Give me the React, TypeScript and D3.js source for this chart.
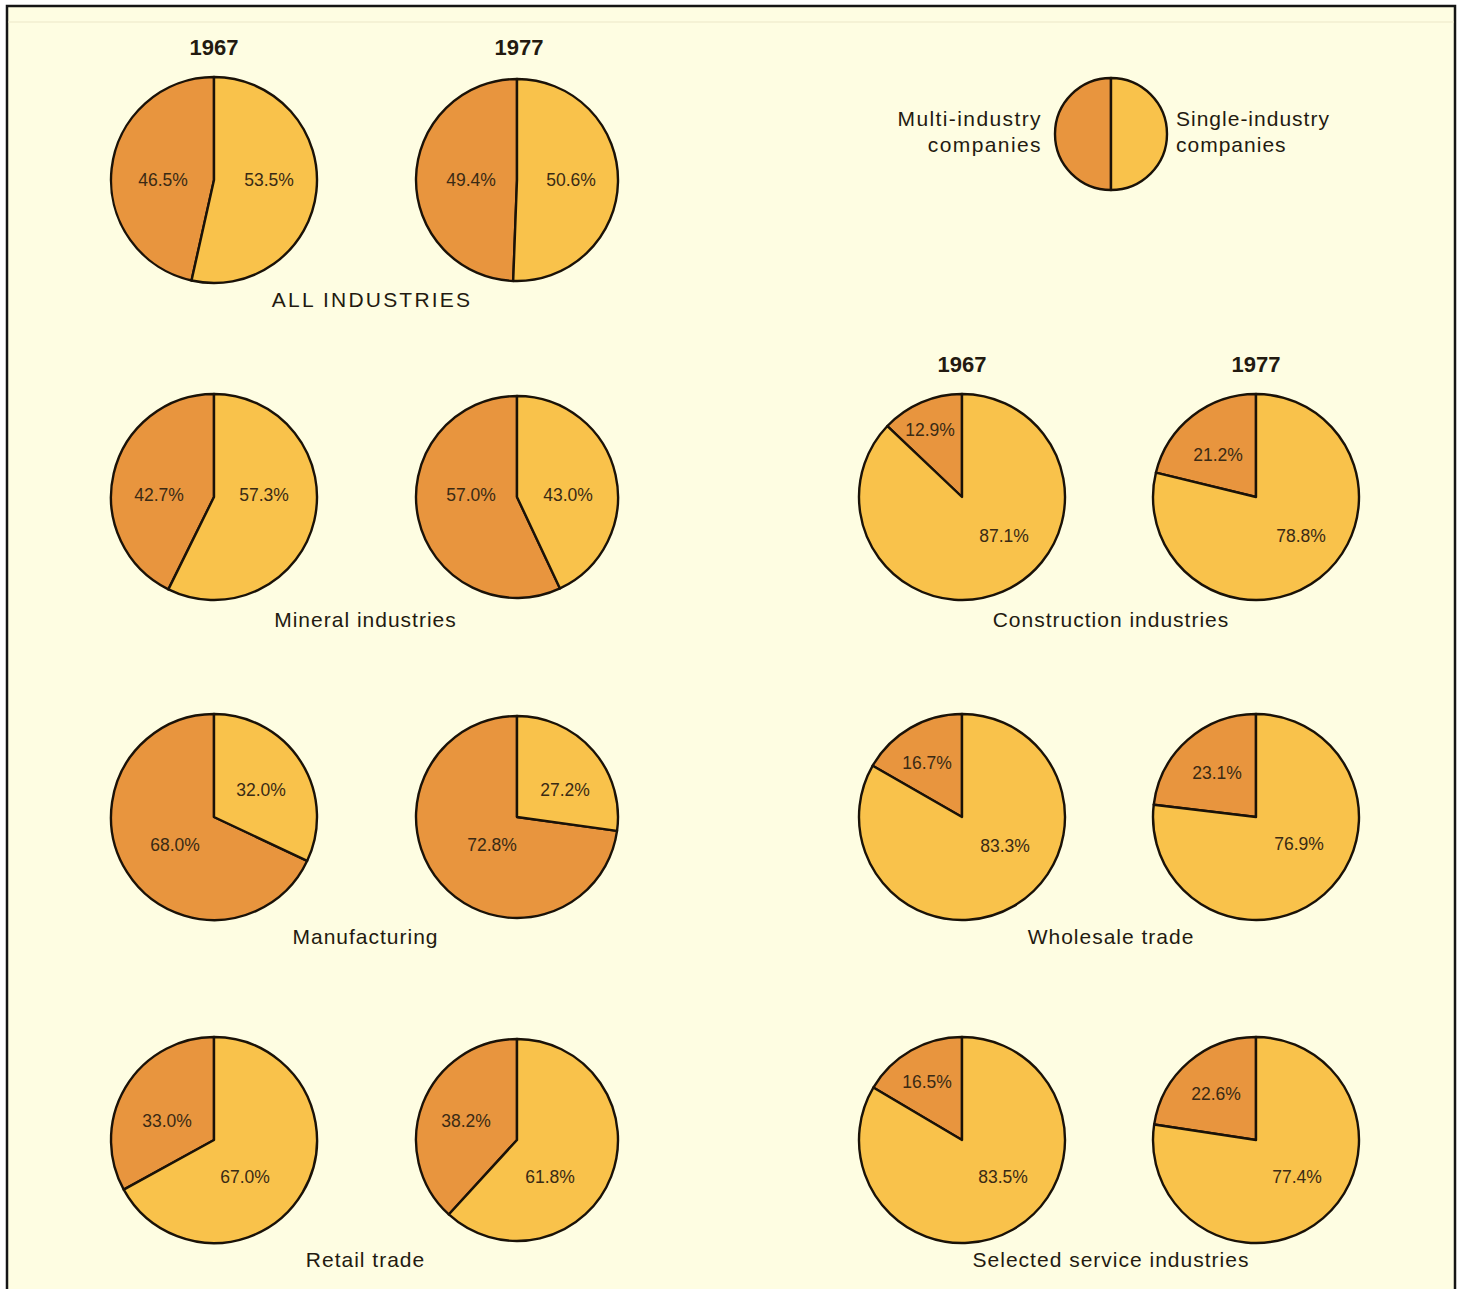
import React from "react";
import * as d3 from "d3";

// ---------- DATA ----------
const industries = [
  "ALL INDUSTRIES",
  "Mineral industries",
  "Manufacturing",
  "Retail trade",
  "Construction industries",
  "Wholesale trade",
  "Selected service industries",
];
const years = ["1967", "1977"];
// share of multi-industry companies (%), per industry: [1967, 1977]
const multi1967 = [46.5, 42.7, 68.0, 33.0, 12.9, 16.7, 16.5];
const multi1977 = [49.4, 57.0, 72.8, 38.2, 21.2, 23.1, 22.6];
// share of single-industry companies (%)
const single1967 = [53.5, 57.3, 32.0, 67.0, 87.1, 83.3, 83.5];
const single1977 = [50.6, 43.0, 27.2, 61.8, 78.8, 76.9, 77.4];
const legendLabels = [["Multi-industry", "companies"], ["Single-industry", "companies"]];

// ---------- LAYOUT ----------
const W = 1461;
const H = 1289;
const colX = [214, 517, 962, 1256]; // pie centres
const rowY = [180, 497, 817, 1140];
const groupPos = [
  { cols: [0, 1], row: 0 },
  { cols: [0, 1], row: 1 },
  { cols: [0, 1], row: 2 },
  { cols: [0, 1], row: 3 },
  { cols: [2, 3], row: 1 },
  { cols: [2, 3], row: 2 },
  { cols: [2, 3], row: 3 },
];
const titleY = [299, 619, 936, 1259];
// label offsets (relative to pie centre): [[multiDx, multiDy],[singleDx, singleDy]] per industry per year
const labelOffsets = [
  [[[-51, 0], [55, 0]], [[-46, 0], [54, 0]]],
  [[[-55, -2], [50, -2]], [[-46, -2], [51, -2]]],
  [[[-39, 28], [47, -27]], [[-25, 28], [48, -27]]],
  [[[-47, -19], [31, 37]], [[-51, -19], [33, 37]]],
  [[[-32, -67], [42, 39]], [[-38, -42], [45, 39]]],
  [[[-35, -54], [43, 29]], [[-39, -44], [43, 27]]],
  [[[-35, -58], [41, 37]], [[-40, -46], [41, 37]]],
];

const ORANGE = "#e8953e";
const YELLOW = "#f9c24b";
const BG = "#fefde2";
const INK = "#231a10";
const FONT = "'Liberation Sans', Arial, Helvetica, sans-serif";

const R = 103;

function Pie({ cx, cy, r, multi, single, offsets, showLabels }) {
  const m = multi / (multi + single);
  const pie = d3
    .pie<number>()
    .sort(null)
    .value((d) => d)
    .startAngle(-m * 2 * Math.PI)
    .endAngle((1 - m) * 2 * Math.PI);
  const arcs = pie([multi, single]);
  const arc = d3.arc<d3.PieArcDatum<number>>().innerRadius(0).outerRadius(r);
  const fmt = d3.format(".1f");
  return (
    <g transform={`translate(${cx},${cy})`}>
      {arcs.map((a, i) => (
        <path
          key={i}
          d={arc(a) || ""}
          fill={i === 0 ? ORANGE : YELLOW}
          stroke="#1a1208"
          strokeWidth={2.4}
          strokeLinejoin="round"
        />
      ))}
      {showLabels &&
        arcs.map((a, i) => (
          <text
            key={"t" + i}
            x={offsets[i][0]}
            y={offsets[i][1]}
            textAnchor="middle"
            dominantBaseline="central"
            fontFamily={FONT}
            fontSize={17.5}
            fill="#3a2a14"
          >
            {fmt(a.value)}%
          </text>
        ))}
    </g>
  );
}

export default function App() {
  return (
    <svg
      width={W}
      height={H}
      style={{ position: "absolute", left: 0, top: 0, background: "#ffffff" }}
    >
      <rect x={7} y={6} width={1448} height={H + 10} fill={BG} stroke="#151515" strokeWidth={2.5} />
      <line x1={8} x2={1454} y1={22} y2={22} stroke="#ece8c8" strokeWidth={1.2} />

      {/* year headers */}
      {[
        { cols: [0, 1], y: 47 },
        { cols: [2, 3], y: 364 },
      ].map((h, hi) =>
        h.cols.map((c, k) => (
          <text
            key={`yh${hi}${k}`}
            x={colX[c] + (c === 1 ? 2 : 0)}
            y={h.y}
            textAnchor="middle"
            dominantBaseline="central"
            fontFamily={FONT}
            fontWeight="bold"
            fontSize={22}
            fill={INK}
          >
            {years[k]}
          </text>
        ))
      )}

      {industries.map((name, i) => {
        const g = groupPos[i];
        const cy = rowY[g.row];
        const values = [
          [multi1967[i], single1967[i]],
          [multi1977[i], single1977[i]],
        ];
        const tx = (colX[g.cols[0]] + colX[g.cols[1]]) / 2 + (g.cols[0] === 0 ? 0 : 2);
        return (
          <g key={name}>
            {g.cols.map((c, k) => (
              <Pie
                key={k}
                cx={colX[c]}
                cy={cy}
                r={c === 1 ? R - 2 : R}
                multi={values[k][0]}
                single={values[k][1]}
                offsets={labelOffsets[i][k]}
                showLabels={true}
              />
            ))}
            <text
              x={i === 0 ? 372 : tx}
              y={titleY[g.row]}
              textAnchor="middle"
              dominantBaseline="central"
              fontFamily={FONT}
              fontSize={21}
              letterSpacing={i === 0 ? 2.2 : 1}
              fill={INK}
            >
              {name}
            </text>
          </g>
        );
      })}

      {/* legend */}
      <Pie cx={1111} cy={134} r={56} multi={50} single={50} offsets={[[0, 0], [0, 0]]} showLabels={false} />
      {legendLabels[0].map((t, j) => (
        <text
          key={"lm" + j}
          x={1042}
          y={118 + j * 26}
          textAnchor="end"
          dominantBaseline="central"
          fontFamily={FONT}
          fontSize={21}
          letterSpacing={1.4}
          fill={INK}
        >
          {t}
        </text>
      ))}
      {legendLabels[1].map((t, j) => (
        <text
          key={"ls" + j}
          x={1176}
          y={118 + j * 26}
          textAnchor="start"
          dominantBaseline="central"
          fontFamily={FONT}
          fontSize={21}
          letterSpacing={1}
          fill={INK}
        >
          {t}
        </text>
      ))}
    </svg>
  );
}
